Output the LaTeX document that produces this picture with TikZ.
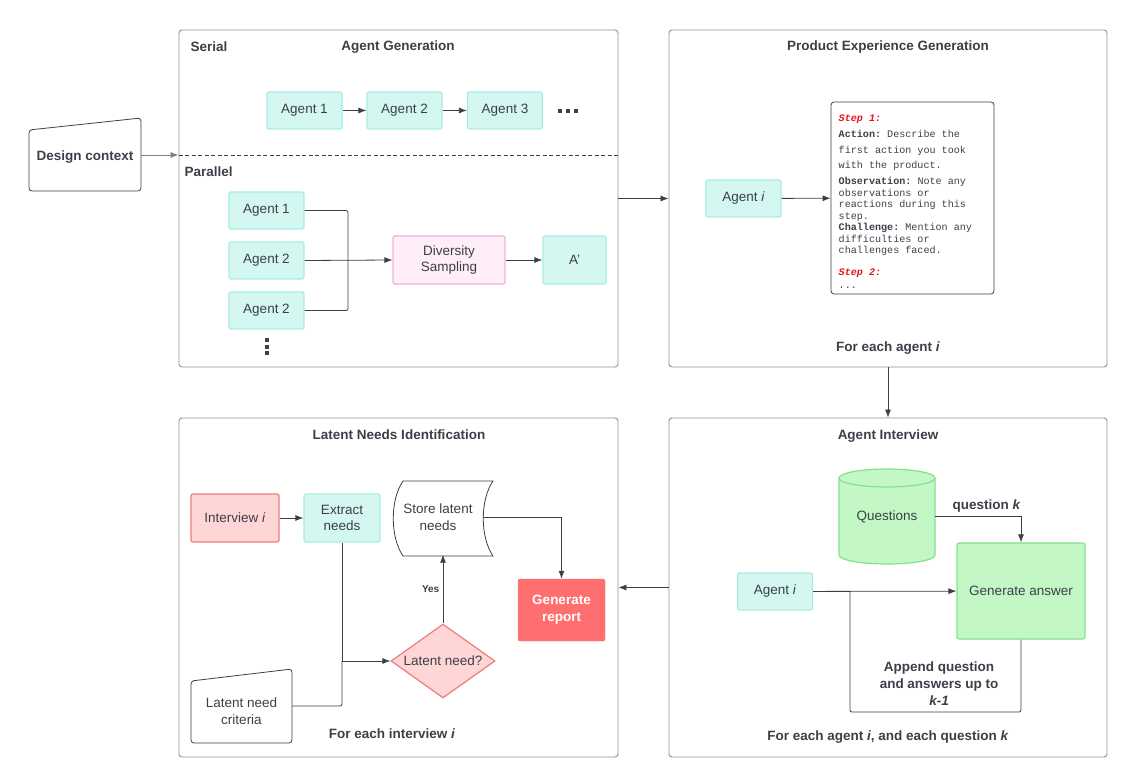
\documentclass[tikz,border=0pt]{standalone}
\usepackage{fontspec}
\setmainfont{Liberation Sans}
\setmonofont{Liberation Mono}
\usetikzlibrary{calc,arrows.meta,shapes.geometric}

\definecolor{ink}{HTML}{3B3F48}
\definecolor{panelgray}{HTML}{8F9196}
\definecolor{tealfill}{HTML}{D4F7F1}
\definecolor{tealline}{HTML}{A6EDE2}
\definecolor{pinkfill}{HTML}{FFEDF8}
\definecolor{pinkline}{HTML}{F7AFD6}
\definecolor{rosefill}{HTML}{FFD6D6}
\definecolor{roseline}{HTML}{F27A7A}
\definecolor{redfill}{HTML}{FF6F6F}
\definecolor{greenfill}{HTML}{C3F7C6}
\definecolor{greenline}{HTML}{86E08C}
\definecolor{stepred}{HTML}{E8141C}

\tikzset{
  panel/.style={draw=panelgray, line width=0.9pt, rounded corners=3pt},
  title/.style={text=ink, font=\bfseries\fontsize{13.5}{17}\selectfont},
  plain/.style={text=ink, font=\fontsize{13.5}{16.5}\selectfont, align=center},
  agent/.style={plain, draw=tealline, fill=tealfill, line width=1.2pt, rounded corners=2pt, minimum width=75pt, minimum height=37pt},
  rosebox/.style={plain, draw=roseline, fill=rosefill, line width=1.2pt, rounded corners=2pt},
  greenbox/.style={plain, draw=greenline, fill=greenfill, line width=1.2pt, rounded corners=2pt},
  stepbox/.style={draw=ink, line width=0.8pt, rounded corners=3pt, minimum width=163pt, minimum height=192pt},
  steptext/.style={inner sep=0pt, align=left, text=ink, font=\ttfamily\fontsize{10.1}{11.5}\selectfont},
  conn/.style={draw=ink, line width=0.8pt},
  arr/.style={conn, -{Latex[length=8pt,width=6pt]}}
}

\begin{document}
\begin{tikzpicture}[x=1pt, y=-1pt]
\useasboundingbox (0,0) rectangle (1127,770);

\node[panel, minimum width=439pt, minimum height=337pt] (gen) at (398.5,198.5) {};
\node[panel, minimum width=438pt, minimum height=337pt] (prod) at (888,198.5) {};
\node[panel, minimum width=438pt, minimum height=339pt] (intv) at (888,587.5) {};
\node[panel, minimum width=439pt, minimum height=339pt] (latent) at (398.5,587.5) {};

\node[title] (gentitle) at (398,47) {Agent Generation};
\node[title, anchor=west] (serlbl) at (187,47) {Serial};
\node[title, anchor=west] (parlbl) at (181,172) {Parallel};

\draw[ink, line width=0.8pt, rounded corners=3pt] (29,130) -- (141,118) -- (141,191) -- (29,191) -- cycle;
\node[title, minimum width=112pt, minimum height=60pt] (design) at (85,157) {Design context};
\draw[arr, draw=gray] ([yshift=2pt]design.east) -- ([yshift=2pt]design.east -| gen.west);
\draw[conn, dash pattern=on 4pt off 2.5pt] ([yshift=2pt]design.east -| gen.west) -- ([yshift=2pt]design.east -| gen.east);

\node[agent] (sa1) at (304.5,110.5) {Agent 1};
\node[agent] (sa2) at (404.5,110.5) {Agent 2};
\node[agent] (sa3) at (505,110.5) {Agent 3};
\draw[arr] (sa1) -- (sa2);
\draw[arr] (sa2) -- (sa3);
\foreach \dx in {0,8,16}
  \fill[ink] (558+\dx,109) rectangle ++(4,4);

\node[agent] (pa1) at (266.5,210.5) {Agent 1};
\node[agent] (pa2) at (266.5,260.5) {Agent 2};
\node[agent] (pa3) at (266.5,310.5) {Agent 2};
\foreach \dy in {0,6.5,13}
  \fill[ink] (265,338+\dy) rectangle ++(4,4);
\node[agent, fill=pinkfill, draw=pinkline, minimum width=112pt, minimum height=48pt] (ds) at (449,260) {Diversity\\Sampling};
\node[agent, minimum width=63pt, minimum height=48pt] (aprime) at (574.5,260) {A'};
\coordinate (merge) at (348,260);
\draw[conn, rounded corners=2pt] (pa1.east) -| (merge) |- (pa3.east);
\draw[arr] (pa2.east) -- (ds.west);
\draw[arr] (ds.east) -- (aprime.west);

\node[title] (prodtitle) at (888,47) {Product Experience Generation};
\node[title] (prodfoot) at (888,348) {For each agent \textit{i}};
\node[agent] (pagent) at (743.5,198.5) {Agent \textit{i}};
\node[stepbox] (steps) at (912.5,198) {};
\node[steptext, anchor=north west] (stepsdesc) at (838.5,115) {\textcolor{stepred}{\textbf{\textit{Step 1:}}}\\[4.5pt]
\textbf{Action:} Describe the\\[4pt]
first action you took\\[4pt]
with the product.\\[4.5pt]
\textbf{Observation:} Note any\\
observations or\\
reactions during this\\
step.\\
\textbf{Challenge:} Mention any\\
difficulties or\\
challenges faced.\\[10.5pt]
\textcolor{stepred}{\textbf{\textit{Step 2:}}}\\[1.5pt]
...};
\draw[arr] (pagent) -- (steps);

\node[title] (intvtitle) at (888,436) {Agent Interview};
\filldraw[fill=greenfill, draw=greenline, line width=1.2pt] (839,478) -- (839,555) arc[start angle=180, end angle=0, x radius=48, y radius=9] -- (935,478) arc[start angle=0, end angle=-180, x radius=48, y radius=9] -- cycle;
\draw[greenline, line width=1.2pt] (839,478) arc[start angle=180, end angle=0, x radius=48, y radius=9];
\node[plain, minimum width=96pt, minimum height=95pt] (ques) at (887,516.5) {Questions};
\node[greenbox, minimum width=128pt, minimum height=96pt] (gans) at (1021,591) {Generate answer};
\node[agent] (iagent) at (775,591.5) {Agent \textit{i}};
\draw[arr] (ques.east) -| (gans.north) node[pos=0.3, above, title] {question \textit{k}};
\draw[arr] (iagent) -- (gans);
\coordinate (loop) at (850,712);
\draw[conn, rounded corners=2pt] (gans.south) |- (loop) -- (loop |- gans.west);
\node[title, align=center] (appendlbl) at (939,684) {Append question\\and answers up to\\\textit{k-1}};
\node[title] (intvfoot) at (888,737) {For each agent \textit{i}, and each question \textit{k}};

\node[title] (lattitle) at (399,435) {Latent Needs Identification};
\node[rosebox, minimum width=88pt, minimum height=48pt] (interview) at (235,518) {Interview \textit{i}};
\node[agent, minimum width=76pt, minimum height=48pt] (extract) at (342,518) {Extract\\needs};
\filldraw[fill=white, draw=ink, line width=0.8pt] (403,481) -- (493,481) .. controls (480,500) and (480,537) .. (493,556) -- (403,556) .. controls (390,537) and (390,500) .. (403,481) -- cycle;
\node[plain, minimum width=90pt, minimum height=75pt] (store) at (438,517) {Store latent\\needs};
\node[diamond, plain, draw=roseline, fill=rosefill, line width=1.2pt, aspect=1.4, inner sep=0pt, minimum width=104pt, minimum height=74pt] (dia) at (443,661) {Latent need?};
\node[title, draw=redfill, fill=redfill, text=white, rounded corners=2pt, align=center, minimum width=87pt, minimum height=62pt] (report) at (561.5,610) {Generate\\report};
\draw[ink, line width=0.8pt, rounded corners=3pt] (191,681) -- (292,669) -- (292,743) -- (191,743) -- cycle;
\node[plain, minimum width=101pt, minimum height=62pt] (crit) at (241.5,711) {Latent need\\criteria};
\node[title] (latfoot) at (392,734) {For each interview \textit{i}};
\draw[arr] (interview) -- (extract);
\draw[arr] (extract.south) |- (dia.west);
\draw[conn, rounded corners=2pt] ([yshift=5pt]crit.east) -| (extract.south |- dia.west);
\draw[arr] (dia.north) -- (dia.north |- store.south) node[midway, left, text=ink, font=\bfseries\fontsize{10}{12}\selectfont] {Yes};
\draw[arr] (store.east) -| (report.north);

\draw[arr] (gen.east) -- (prod.west);
\draw[arr] (prod.south) -- (intv.north);
\draw[arr] (intv.west) -- (latent.east);
\end{tikzpicture}
\end{document}
